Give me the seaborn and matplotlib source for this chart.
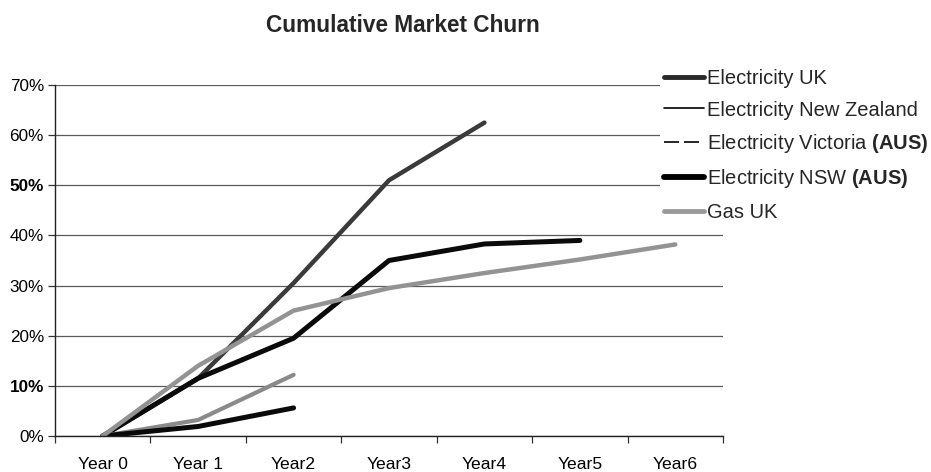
import numpy as np
import pandas as pd
import matplotlib
matplotlib.use("Agg")
import matplotlib.pyplot as plt
from matplotlib.lines import Line2D
from matplotlib.ticker import FixedLocator, FuncFormatter
import seaborn as sns

# ---- data ----
years = ["Year 0", "Year 1", "Year2", "Year3", "Year4", "Year5", "Year6"]
elec_uk = [0, 11.5, 30.5, 51, 62.5]
elec_nz = [0, 11.5, 19.5, 35, 38.3, 39]
elec_vic = [0, 3.2, 12.2]
elec_nsw = [0, 1.9, 5.6]
gas_uk = [0, 14, 25, 29.5, 32.5, 35.2, 38.2]
yticks = [0, 10, 20, 30, 40, 50, 60, 70]
title = "Cumulative Market Churn"

sns.set_style("white")
plt.rcParams["font.family"] = ["Liberation Sans", "DejaVu Sans"]
plt.rcParams["mathtext.fontset"] = "custom"
plt.rcParams["mathtext.rm"] = "Liberation Sans"
plt.rcParams["mathtext.bf"] = "Liberation Sans:bold"

fig = plt.figure(figsize=(9.31, 4.72), dpi=100)
ax = fig.add_axes([55 / 931, 1 - 436 / 472, (723 - 55) / 931, (436 - 85) / 472])

series = [
    ("Electricity UK", elec_uk, "#3a3a3a", 3.2),
    ("Electricity New Zealand", elec_nz, "#0a0a0a", 3.6),
    ("Electricity Victoria (AUS)", elec_vic, "#8a8a8a", 3.0),
    ("Electricity NSW (AUS)", elec_nsw, "#0a0a0a", 3.6),
    ("Gas UK", gas_uk, "#939393", 3.2),
]
for name, vals, col, lw in series:
    df = pd.DataFrame({"x": np.arange(len(vals)), "y": vals})
    sns.lineplot(data=df, x="x", y="y", ax=ax, color=col, linewidth=lw,
                 legend=False, solid_capstyle="round", solid_joinstyle="round")

ax.set_xlim(-0.5, len(years) - 0.5)
ax.set_ylim(0, 70)
ax.set_xlabel("")
ax.set_ylabel("")

# y axis
ax.yaxis.set_major_locator(FixedLocator(yticks))
ax.yaxis.set_major_formatter(FuncFormatter(lambda v, p: f"{v:.0f}%"))
ax.grid(axis="y", color="#5a5a5a", linewidth=0.9)
ax.grid(axis="x", visible=False)
ax.tick_params(axis="y", which="major", direction="out", length=5, width=0.9,
               color="#333333", pad=3, labelsize=12.3, labelcolor="black", left=True)
for lab in ax.get_yticklabels():
    if lab.get_text() in ("10%", "50%"):
        lab.set_fontweight("bold")

# x axis
ax.xaxis.set_major_locator(FixedLocator(np.arange(len(years))))
ax.set_xticklabels(years)
ax.xaxis.set_minor_locator(FixedLocator(np.arange(len(years) + 1) - 0.5))
ax.tick_params(axis="x", which="major", length=0, pad=15, labelsize=12.6, labelcolor="black")
ax.tick_params(axis="x", which="minor", direction="out", length=5, width=0.9,
               color="#333333", bottom=True)

for s in ["top", "right"]:
    ax.spines[s].set_visible(False)
for s in ["left", "bottom"]:
    ax.spines[s].set_color("#222222")
    ax.spines[s].set_linewidth(1.0)

# legend (as drawn in the reference)
handles = [
    Line2D([], [], color="#2a2a2a", linewidth=3.5),
    Line2D([], [], color="black", linewidth=1.2),
    Line2D([], [], color="black", linewidth=1.2, dashes=(9, 3)),
    Line2D([], [], color="black", linewidth=4.2),
    Line2D([], [], color="#9a9a9a", linewidth=3.5),
]
labels = [
    "Electricity UK",
    "Electricity New Zealand",
    r"Electricity Victoria $\bf{(AUS)}$",
    r"Electricity NSW $\bf{(AUS)}$",
    "Gas UK",
]
leg = fig.legend(handles, labels, loc="upper left",
                 bbox_to_anchor=(660 / 931, 1 - 65 / 472),
                 fontsize=14.5, frameon=True, facecolor="white", edgecolor="none",
                 framealpha=1, handlelength=2.0, handletextpad=0.15,
                 labelspacing=0.62, borderpad=0.2, borderaxespad=0)

fig.text(403 / 931, 1 - 25 / 472, title, ha="center", va="center",
         fontsize=16.3, fontweight="bold")

fig.savefig("out.png", dpi=100)
